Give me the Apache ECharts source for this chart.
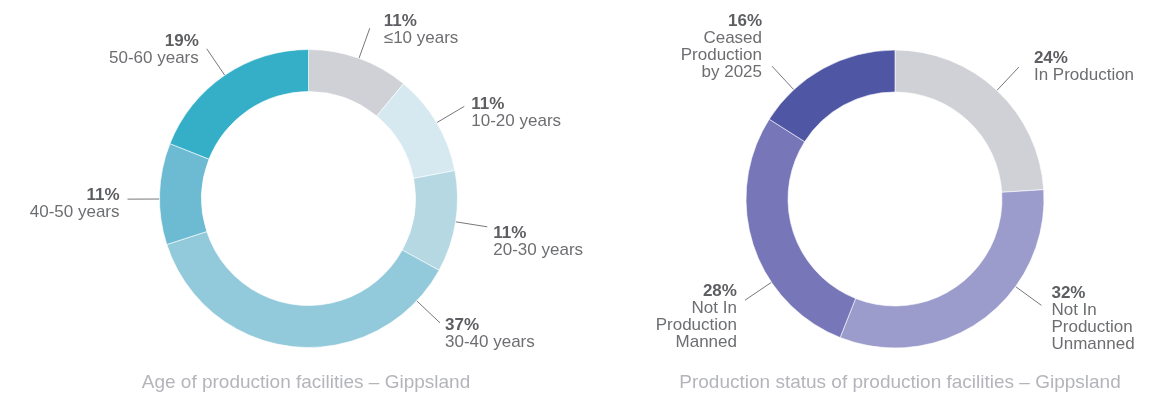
<!DOCTYPE html>
<html>
<head>
<meta charset="utf-8">
<title>Gippsland production facilities</title>
<script src="https://cdn.jsdelivr.net/npm/echarts@6/dist/echarts.min.js"></script>
<style>
  html, body { margin: 0; padding: 0; background: #ffffff; }
  #chart { width: 1154px; height: 397px; }
</style>
</head>
<body>
<div id="chart"></div>
<script>
// ---- data ----
const ageCategories = ['≤10 years', '10-20 years', '20-30 years', '30-40 years', '40-50 years', '50-60 years'];
const ageShares = [11, 11, 11, 37, 11, 19];

const statusCategories = ['In Production', 'Not In\nProduction\nUnmanned', 'Not In\nProduction\nManned', 'Ceased\nProduction\nby 2025'];
const statusShares = [24, 32, 28, 16];

const chartTitles = ['Age of production facilities – Gippsland', 'Production status of production facilities – Gippsland'];

// ---- styling / layout ----
const ageColors = ['#d0d1d6', '#d7e9f0', '#b5d8e3', '#93cadb', '#6dbbd2', '#35afc8'];
const statusColors = ['#d0d1d6', '#9b9bcc', '#7676b8', '#4f57a5'];

const R_IN = 107, R_OUT = 149, LEAD = 32;
const ageCenter = [308.5, 198.5];
const statusCenter = [895, 199];

// leader-line anchor shift from each slice's mid angle (degrees)
const ageAnchorShift = [0, 0, 0, -52, -2, 0];
const statusAnchorShift = [0, -18, -16, -14];
// vertical offset of each label block from its leader-line end
const ageLabelDy = [2, 6, 15, 11, 5, 1];
const statusLabelDy = [0, 13, 17, -19];
const ageLabelGap = [14, 7, 6, 5, 8, 8];
const statusLabelGap = [15, 10, 8, 10];

function midAngles(values) {
  const total = values.reduce((s, v) => s + v, 0);
  let acc = 0;
  return values.map(v => {
    const m = (acc + v / 2) / total * 360;
    acc += v;
    return m;
  });
}

function leaderLayout(values, center, shifts, dys, gaps) {
  const mids = midAngles(values);
  return function (p) {
    const i = p.dataIndex;
    const a = (mids[i] + shifts[i]) * Math.PI / 180;
    const sx = Math.sin(a), sy = -Math.cos(a);
    const x0 = center[0] + R_OUT * sx, y0 = center[1] + R_OUT * sy;
    const x1 = center[0] + (R_OUT + LEAD) * sx, y1 = center[1] + (R_OUT + LEAD) * sy;
    const right = sx >= 0;
    return {
      x: x1 + (right ? gaps[i] : -gaps[i]),
      y: y1 + dys[i],
      align: right ? 'left' : 'right',
      verticalAlign: 'middle',
      labelLinePoints: [[x0, y0], [x1, y1], [x1, y1]]
    };
  };
}

const FONT = 'Liberation Sans, Arial, sans-serif';
const labelStyle = {
  show: true,
  position: 'outside',
  formatter: '{p|{c}%}\n{n|{b}}',
  fontFamily: FONT,
  rich: {
    p: { fontSize: 17, fontWeight: 'bold', color: '#5d5e61', lineHeight: 17, fontFamily: FONT },
    n: { fontSize: 17, color: '#6d6e71', lineHeight: 17, fontFamily: FONT }
  }
};

function donut(categories, values, colors, center, shifts, dys, gaps) {
  return {
    type: 'pie',
    center: center,
    radius: [R_IN, R_OUT],
    startAngle: 90,
    clockwise: true,
    avoidLabelOverlap: false,
    silent: true,
    animation: false,
    itemStyle: { borderColor: '#ffffff', borderWidth: 0.6 },
    label: labelStyle,
    labelLine: { show: true, length: LEAD, length2: 0, smooth: false, lineStyle: { color: '#77787b', width: 1 } },
    labelLayout: leaderLayout(values, center, shifts, dys, gaps),
    data: categories.map((name, i) => ({ name: name, value: values[i], itemStyle: { color: colors[i] } }))
  };
}

const chart = echarts.init(document.getElementById('chart'), null, { renderer: 'canvas' });
chart.setOption({
  animation: false,
  backgroundColor: '#ffffff',
  series: [
    donut(ageCategories, ageShares, ageColors, ageCenter, ageAnchorShift, ageLabelDy, ageLabelGap),
    donut(statusCategories, statusShares, statusColors, statusCenter, statusAnchorShift, statusLabelDy, statusLabelGap)
  ],
  graphic: [
    { type: 'text', x: 306, y: 383, style: { text: chartTitles[0], align: 'center', verticalAlign: 'middle', fontSize: 19, fill: '#b4b5bb', fontFamily: FONT } },
    { type: 'text', x: 900, y: 383, style: { text: chartTitles[1], align: 'center', verticalAlign: 'middle', fontSize: 19, fill: '#b4b5bb', fontFamily: FONT } }
  ]
});
</script>
</body>
</html>
